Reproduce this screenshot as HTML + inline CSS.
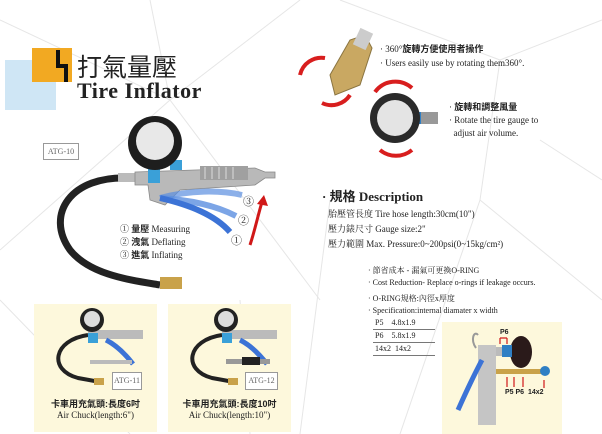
<!DOCTYPE html>
<html><head><meta charset="utf-8"><style>
*{margin:0;padding:0;box-sizing:border-box}
body{width:602px;height:434px;overflow:hidden;background:#fff;position:relative;font-family:"Liberation Serif","Noto Serif CJK SC",serif;color:#222}
.t{position:absolute;white-space:nowrap}
.s{font-family:"Liberation Sans","Noto Sans CJK TC",sans-serif}
.pan{position:absolute;background:#fdf8dc}
.box{position:absolute;border:1px solid #999;background:#fff;font-size:8px;color:#666;text-align:center;line-height:16px}
</style></head><body>
<svg width="602" height="434" style="position:absolute;left:0;top:0">
<g stroke="#e6e6e6" stroke-width="1" fill="none">
<line x1="0" y1="20" x2="170" y2="100"/><line x1="150" y1="0" x2="170" y2="100"/><line x1="170" y1="100" x2="300" y2="0"/>
<line x1="170" y1="100" x2="0" y2="250"/><line x1="170" y1="100" x2="320" y2="300"/><line x1="0" y1="300" x2="130" y2="434"/>
<line x1="340" y1="0" x2="500" y2="60"/><line x1="500" y1="60" x2="602" y2="20"/><line x1="500" y1="60" x2="480" y2="200"/>
<line x1="480" y1="200" x2="602" y2="300"/><line x1="480" y1="200" x2="400" y2="434"/><line x1="300" y1="434" x2="330" y2="200"/>
<line x1="540" y1="140" x2="602" y2="180"/><line x1="240" y1="300" x2="250" y2="434"/>
</g>
<rect x="5" y="60" width="51" height="50" fill="#cfe6f5"/>
<rect x="32" y="48" width="40" height="34" fill="#f2a922"/>
<path d="M58 50 v16 h8 v16" stroke="#111" stroke-width="4" fill="none"/>
<path d="M130 178 C70 175,45 215,70 250 C90 275,130 280,160 285" stroke="#222" stroke-width="7" fill="none"/>
<rect x="160" y="277" width="22" height="12" fill="#c9a24a"/>
<rect x="118" y="173" width="22" height="9" fill="#bbb"/>
<path d="M135 172 L255 168 L265 172 L275 172 L275 178 L265 178 L255 185 L180 190 L165 205 L150 200 L148 185 L135 185Z" fill="#b9b9b9" stroke="#888" stroke-width="0.8"/>
<rect x="200" y="166" width="48" height="14" fill="#a0a0a0"/>
<g stroke="#ddd"><line x1="205" y1="167" x2="205" y2="179"/><line x1="212" y1="167" x2="212" y2="179"/><line x1="219" y1="167" x2="219" y2="179"/><line x1="226" y1="167" x2="226" y2="179"/><line x1="233" y1="167" x2="233" y2="179"/></g>
<rect x="148" y="165" width="12" height="18" fill="#3aa0d8"/>
<rect x="170" y="160" width="12" height="10" fill="#3aa0d8"/>
<path d="M160 198 C190 190,220 190,242 195" stroke="#5b8fe0" stroke-width="6" fill="none" opacity="0.7"/>
<path d="M160 198 C190 200,215 205,236 216" stroke="#5b8fe0" stroke-width="6" fill="none" opacity="0.8"/>
<path d="M160 198 C190 205,215 215,230 232" stroke="#3c73d6" stroke-width="6" fill="none"/>
<circle cx="155" cy="143" r="27" fill="#1e1e1e"/>
<circle cx="155" cy="141" r="19" fill="#e8e8e8"/>
<path d="M250 245 C255 230,258 215,262 202" stroke="#d01818" stroke-width="3" fill="none"/>
<path d="M257 204 L264 195 L268 206Z" fill="#d01818"/>
<path d="M330 75 L350 40 L365 35 L372 48 L360 85 L335 95Z" fill="#c9a862" stroke="#8a7440"/>
<rect x="356" y="30" width="14" height="18" fill="#ccc" transform="rotate(25 363 39)"/>
<path d="M300 75 A22 22 0 0 1 325 58" stroke="#d81e1e" stroke-width="4" fill="none"/>
<path d="M322 103 A22 22 0 0 0 350 95" stroke="#d81e1e" stroke-width="4" fill="none"/>
<path d="M375 92 A25 25 0 0 1 412 88" stroke="#d81e1e" stroke-width="4" fill="none"/>
<path d="M380 150 A25 25 0 0 0 412 150" stroke="#d81e1e" stroke-width="4" fill="none"/>
<rect x="413" y="112" width="25" height="12" fill="#999"/>
<rect x="413" y="112" width="8" height="12" fill="#2f7fc4"/>
<circle cx="395" cy="118" r="25" fill="#2a2a2a"/>
<circle cx="395" cy="118" r="18" fill="#e4e4e4"/>
</svg>
<div class="t s" style="left:77px;top:48px;font-size:25px;color:#222">打氣量壓</div>
<div class="t" style="left:77px;top:78px;font-size:22px;font-weight:bold;letter-spacing:0.5px">Tire Inflator</div>
<div class="box" style="left:43px;top:143px;width:36px;height:17px">ATG-10</div>
<div class="t" style="left:120px;top:223px;font-size:9px;line-height:13px">① <b class="s">量壓</b> Measuring<br>② <b class="s">洩氣</b> Deflating<br>③ <b class="s">進氣</b> Inflating</div>
<div class="t" style="left:243px;top:193px;font-size:11px">③</div>
<div class="t" style="left:238px;top:212px;font-size:11px">②</div>
<div class="t" style="left:231px;top:232px;font-size:11px">①</div>
<div class="t" style="left:380px;top:42px;font-size:9px;line-height:14px">· 360°<b class="s">旋轉方便使用者操作</b><br>· Users easily use by rotating them360°.</div>
<div class="t" style="left:449px;top:101px;font-size:9px;line-height:13px">· <b class="s">旋轉和調整風量</b><br>· Rotate the tire gauge to<br>&nbsp;&nbsp;adjust air volume.</div>
<div class="t" style="left:322px;top:186px;font-size:13px;font-weight:bold">· <span class="s">規格</span> Description</div>
<div class="t" style="left:328px;top:207px;font-size:9px;line-height:15px">胎壓管長度 Tire hose length:30cm(10")<br>壓力錶尺寸 Gauge size:2"<br>壓力範圍 Max. Pressure:0~200psi(0~15kg/cm²)</div>
<div class="t" style="left:368px;top:265px;font-size:8px;line-height:12px">· 節省成本 - 漏氣可更換O-RING<br>· Cost Reduction- Replace o-rings if leakage occurs.</div>
<div class="t" style="left:368px;top:293px;font-size:8px;line-height:12px">· O-RING規格:內徑x厚度<br>· Specification:internal diamater x width</div>
<div class="t" style="left:373px;top:317px;font-size:8px;line-height:12px;width:62px">
<div style="border-bottom:1px solid #777">&nbsp;P5&nbsp;&nbsp;&nbsp;&nbsp;4.8x1.9</div>
<div style="border-bottom:1px solid #777">&nbsp;P6&nbsp;&nbsp;&nbsp;&nbsp;5.8x1.9</div>
<div style="border-bottom:1px solid #777">&nbsp;14x2&nbsp;&nbsp;14x2</div></div>
<div class="pan" style="left:34px;top:304px;width:123px;height:128px"></div>
<div class="pan" style="left:168px;top:304px;width:123px;height:128px"></div>
<div class="pan" style="left:442px;top:322px;width:120px;height:112px"></div>
<svg width="602" height="434" style="position:absolute;left:0;top:0">
<g transform="translate(8 0)">
<path d="M80 335 C45 340,40 370,70 378 L92 382" stroke="#222" stroke-width="4" fill="none"/>
<rect x="80" y="330" width="55" height="9" fill="#bbb"/><rect x="80" y="333" width="10" height="10" fill="#3aa0d8"/>
<path d="M98 340 C108 345,118 355,125 364" stroke="#3c73d6" stroke-width="5" fill="none"/>
<circle cx="84" cy="320" r="12" fill="#222"/><circle cx="84" cy="319" r="8" fill="#ddd"/>
<rect x="82" y="360" width="42" height="4" fill="#bbb"/>
<rect x="86" y="378" width="10" height="7" fill="#c9a24a"/>
</g>
<g transform="translate(142 0)">
<path d="M80 335 C45 340,40 370,70 378 L92 382" stroke="#222" stroke-width="4" fill="none"/>
<rect x="80" y="330" width="55" height="9" fill="#bbb"/><rect x="80" y="333" width="10" height="10" fill="#3aa0d8"/>
<path d="M98 340 C108 345,118 355,125 364" stroke="#3c73d6" stroke-width="5" fill="none"/>
<circle cx="84" cy="320" r="12" fill="#222"/><circle cx="84" cy="319" r="8" fill="#ddd"/>
<rect x="84" y="359" width="44" height="5" fill="#999"/><rect x="100" y="357" width="18" height="8" fill="#222"/>
<rect x="86" y="378" width="10" height="7" fill="#c9a24a"/>
</g>
<ellipse cx="521" cy="352" rx="11" ry="16" fill="#2a1a1a"/>
<rect x="495" y="347" width="16" height="9" fill="#bbb"/><rect x="502" y="345" width="10" height="12" fill="#2f7fc4"/>
<path d="M478 335 C474 330,470 340,476 348" stroke="#999" stroke-width="2" fill="none"/>
<rect x="478" y="345" width="18" height="80" fill="#c5c5c5"/>
<rect x="496" y="369" width="48" height="5" fill="#c9a24a"/><circle cx="545" cy="371" r="5" fill="#2f7fc4"/>
<path d="M482 360 C474 375,466 392,458 410" stroke="#3c73d6" stroke-width="5" fill="none"/>
<g stroke="#d01818" stroke-width="1.2" fill="none">
<path d="M500 338 v6 M507 338 v6 M500 338 h7"/><path d="M507 377 v10 M514 377 v10 M523 377 v10 M544 380 v8"/></g>
</svg>
<div class="box" style="left:112px;top:372px;width:30px;height:18px">ATG-11</div>
<div class="box" style="left:245px;top:372px;width:33px;height:18px">ATG-12</div>
<div class="t s" style="left:34px;top:397px;width:123px;text-align:center;font-size:9px;font-weight:bold">卡車用充氣頭:長度6吋</div>
<div class="t" style="left:34px;top:410px;width:123px;text-align:center;font-size:9px">Air Chuck(length:6")</div>
<div class="t s" style="left:168px;top:397px;width:123px;text-align:center;font-size:9px;font-weight:bold">卡車用充氣頭:長度10吋</div>
<div class="t" style="left:168px;top:410px;width:123px;text-align:center;font-size:9px">Air Chuck(length:10")</div>
<div class="t s" style="left:500px;top:329px;font-size:7px;font-weight:bold">P6</div>
<div class="t s" style="left:505px;top:389px;font-size:7px;font-weight:bold">P5&nbsp;P6&nbsp;&nbsp;14x2</div>
</body></html>
